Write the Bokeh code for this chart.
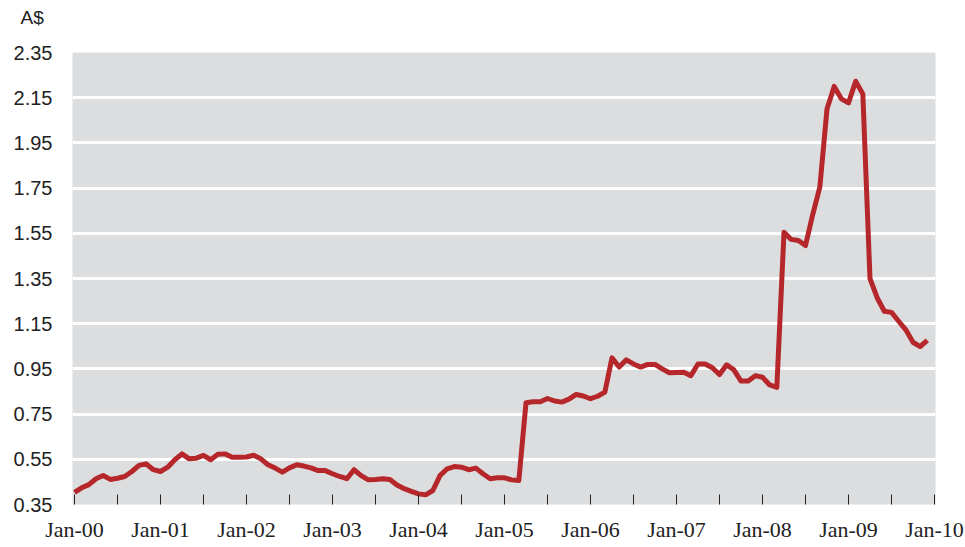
import numpy as np
from bokeh.plotting import figure
from bokeh.models import FixedTicker, Range1d, Title, NumeralTickFormatter
from bokeh.embed import file_html
from bokeh.resources import INLINE

# Monthly price (A$), Jan-2000 .. Dec-2009
prices = [
    0.404, 0.424, 0.438, 0.464, 0.478, 0.461, 0.466, 0.474, 0.496, 0.523, 0.530, 0.504,
    0.496, 0.515, 0.548, 0.574, 0.552, 0.555, 0.567, 0.548, 0.572, 0.574, 0.559, 0.559,
    0.560, 0.568, 0.552, 0.526, 0.511, 0.493, 0.512, 0.526, 0.520, 0.512, 0.500, 0.500,
    0.486, 0.474, 0.464, 0.504, 0.478, 0.459, 0.461, 0.464, 0.461, 0.436, 0.420, 0.408,
    0.397, 0.393, 0.412, 0.478, 0.508, 0.518, 0.515, 0.504, 0.511, 0.486, 0.464, 0.468,
    0.468, 0.459, 0.456, 0.800, 0.805, 0.805, 0.819, 0.808, 0.803, 0.816, 0.837, 0.830,
    0.818, 0.829, 0.847, 0.999, 0.958, 0.990, 0.972, 0.958, 0.970, 0.970, 0.950, 0.933,
    0.934, 0.935, 0.920, 0.972, 0.972, 0.955, 0.925, 0.968, 0.946, 0.896, 0.896, 0.920,
    0.913, 0.879, 0.868, 1.555, 1.523, 1.518, 1.496, 1.632, 1.754, 2.100, 2.200, 2.145,
    2.127, 2.223, 2.167, 1.349, 1.265, 1.205, 1.200, 1.161, 1.123, 1.068, 1.049, 1.076,
]
month_index = list(range(len(prices)))

x_tick_pos = [0, 12, 24, 36, 48, 60, 72, 84, 96, 108, 120]
x_tick_labels = ["Jan-00", "Jan-01", "Jan-02", "Jan-03", "Jan-04", "Jan-05",
                 "Jan-06", "Jan-07", "Jan-08", "Jan-09", "Jan-10"]
x_minor_pos = [6, 18, 30, 42, 54, 66, 78, 90, 102, 114]
y_ticks = [0.35, 0.55, 0.75, 0.95, 1.15, 1.35, 1.55, 1.75, 1.95, 2.15, 2.35]
unit_label = "A$"

p = figure(width=965, height=547, output_backend="svg", toolbar_location=None,
           x_range=Range1d(-0.28, 120.14), y_range=Range1d(0.35, 2.35),
           min_border_left=72, min_border_right=30, min_border_top=52, min_border_bottom=43)

p.background_fill_color = "#DCDDDF"
p.border_fill_color = "white"
p.outline_line_color = None

p.line(month_index, prices, line_color="#B5272A", line_width=5, line_join="round")

# x axis
xa = p.xaxis[0]
xa.ticker = FixedTicker(ticks=x_tick_pos, minor_ticks=x_minor_pos)
xa.major_label_overrides = {t: l for t, l in zip(x_tick_pos, x_tick_labels)}
xa.axis_line_color = None
xa.major_tick_in = 10
xa.major_tick_out = 0
xa.minor_tick_in = 10
xa.minor_tick_out = 0
xa.major_tick_line_color = "#222222"
xa.minor_tick_line_color = "#222222"
xa.major_label_text_font = "Liberation Sans Narrow"
xa.major_label_text_font_size = "22px"
xa.major_label_text_color = "#222222"
xa.major_label_standoff = 12

# y axis
ya = p.yaxis[0]
ya.ticker = FixedTicker(ticks=y_ticks)
ya.formatter = NumeralTickFormatter(format="0.00")
ya.axis_line_color = None
ya.major_tick_line_color = None
ya.minor_tick_line_color = None
ya.major_tick_in = 0
ya.major_tick_out = 0
ya.major_label_text_font = "Liberation Sans"
ya.major_label_text_font_size = "20px"
ya.major_label_text_color = "#222222"
ya.major_label_standoff = 20

p.xgrid.grid_line_color = None
p.ygrid.grid_line_color = "white"
p.ygrid.grid_line_width = 3

# unit label at the top-left; the trailing blank line lifts it above the frame
p.add_layout(Title(text=unit_label + "\n ", align="left", offset=-52,
                   text_line_height=0.92,
                   text_font="Liberation Sans", text_font_size="19px",
                   text_font_style="normal", text_color="#222222"), "above")

open("out.html", "w").write(file_html(p, INLINE))
